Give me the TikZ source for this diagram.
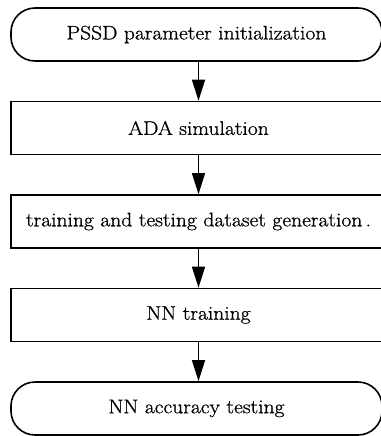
\documentclass[tikz,border=0pt]{standalone}
\usepackage{fontspec}
\setmainfont{Latin Modern Roman}[FakeBold=0.9,FakeStretch=1.1]
\usetikzlibrary{arrows.meta}
\begin{document}
\begin{tikzpicture}[x=1pt,y=-1pt,
  term/.style={draw,line width=1.6pt,rounded corners=24pt,minimum width=371pt,minimum height=53pt,inner sep=0pt,font=\fontsize{19.6}{22}\selectfont},
  procbox/.style={draw,line width=1.6pt,minimum width=375pt,minimum height=53pt,inner sep=0pt,font=\fontsize{19.6}{22}\selectfont},
  flow/.style={line width=1.4pt,-{Triangle[length=21pt,width=13pt]}}]
\useasboundingbox (0,0) rectangle (380,436);
\node[term] (n1) at (196.5,34.5) {PSSD parameter initialization};
\node[procbox] (n2) at (198.5,128) {ADA simulation};
\node[procbox] (n3) at (198.5,221.5) {training and testing dataset generation\,.};
\node[procbox] (n4) at (198.5,315) {NN training};
\node[term] (n5) at (196.5,408.5) {NN accuracy testing};
\draw[flow] (n1.south -| n2.center) -- (n2.north);
\draw[flow] (n2) -- (n3);
\draw[flow] (n3) -- (n4);
\draw[flow] (n4.south) -- (n5.north -| n4.center);
\end{tikzpicture}
\end{document}
